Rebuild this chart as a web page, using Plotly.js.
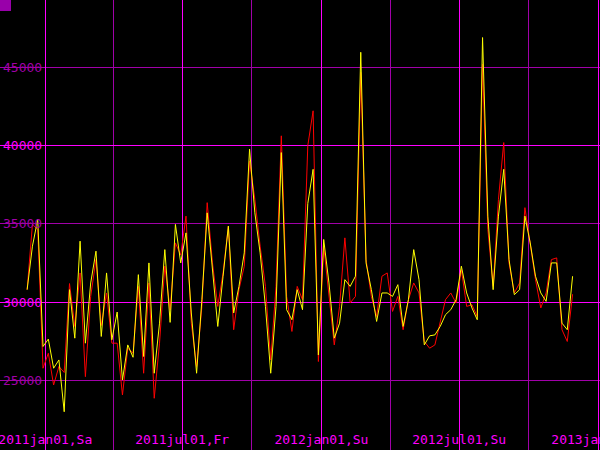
<!DOCTYPE html>
<html>
<head>
<meta charset="utf-8">
<script src="https://cdn.plot.ly/plotly-3.0.1.min.js"></script>
<style>html,body{margin:0;padding:0;background:#000;}#chart{width:600px;height:450px;}</style>
</head>
<body>
<div id="chart"></div>
<script>
// weekly series starting 2010-12-08
const startDate = "2010-12-08";
const seriesYellow = [30790,33570,35280,27160,27630,25770,26300,22990,30790,27690,
  33890,27370,31220,33250,27800,31860,27590,29360,25020,27260,
  26470,31750,26520,32500,25450,28650,33350,28700,34960,32500,
  34420,29300,25450,30150,35700,32290,28440,31650,34850,29300,
  31000,33140,39770,35700,33140,29720,25450,29720,39550,29510,
  28870,30790,29510,36300,38480,26620,34000,31220,27690,28650,
  31430,31000,31650,45960,32500,30790,28760,30580,30580,30360,
  31110,28440,30150,33350,31430,27260,27840,27900,28440,29190,
  29510,30150,32290,30580,29620,28870,46900,35490,30790,35490,
  38480,32710,30470,30790,35490,33780,31650,30580,30040,32500,
  32500,28650,28230,31650];
const seriesRed = [30790,34960,34640,25770,26730,24700,25880,25500,31180,28440,
  31860,25230,30360,32710,28500,30580,27370,27370,24060,27050,
  26730,31000,25450,31220,23850,27370,32290,29500,33780,33000,
  35490,28650,25880,29720,36350,32500,29720,31860,34850,28230,
  30790,32290,39020,36560,33570,31000,26300,31000,40620,30360,
  28120,31000,30150,40000,42220,26200,33570,30360,27260,29720,
  34100,29940,30360,44680,32710,30360,29080,31650,31860,29400,
  30360,28230,30150,31220,30580,27480,27050,27260,28650,30150,
  30580,29940,32070,29720,29830,29080,45200,34640,31000,36560,
  40190,32500,30580,31220,36030,33570,31430,29620,30580,32710,
  32820,28230,27480,30500];
// x ticks: quarters (all gridlines), half-years are the bright labelled ones
const xQuarterVals = ["2011-01-01","2011-04-01","2011-07-01","2011-10-01","2012-01-01","2012-04-01","2012-07-01","2012-10-01","2013-01-01"];
const xQuarterText = ["2011jan01,Sa","","2011jul01,Fr","","2012jan01,Su","","2012jul01,Su","","2013jan01,Tu"];
const xMajorVals = ["2011-01-01","2011-07-01","2012-01-01","2012-07-01","2013-01-01"];
// y ticks
const yAllVals = [25000,30000,35000,40000,45000];
const yAllText = ["25000","","35000","","45000"];
const yMajorVals = [30000,40000];
const yMajorText = ["30000","40000"];

const dates = [];
const d0 = new Date(startDate + "T00:00:00Z");
for (let i = 0; i < seriesYellow.length; i++) {
  const d = new Date(d0.getTime() + i * 7 * 86400000);
  dates.push(d.toISOString().slice(0,10));
}

const bright = "#ff00ff";
const dark = "#a000a8";
const fam = "DejaVu Sans Mono, Liberation Mono, monospace";
const yRange = [20545, 49300];
const xRange = ["2010-11-02 03:00", "2013-01-03 06:00"];

const traces = [
  {x: dates, y: seriesRed, type: "scatter", mode: "lines", line: {color: "#ff0000", width: 1}, xaxis: "x", yaxis: "y", hoverinfo: "skip"},
  {x: dates, y: seriesYellow, type: "scatter", mode: "lines", line: {color: "#ffff00", width: 1}, xaxis: "x2", yaxis: "y2", hoverinfo: "skip"}
];

const common = {ticks: "", showline: false, zeroline: false, ticklabelposition: "inside", ticklabeloverflow: "allow"};

const layout = {
  width: 600, height: 450,
  margin: {l: 0, r: 0, t: 0, b: 0, pad: 0},
  paper_bgcolor: "#000", plot_bgcolor: "#000",
  showlegend: false,
  font: {family: fam, size: 13},
  xaxis: Object.assign({}, common, {
    type: "date", range: xRange,
    tickmode: "array", tickvals: xQuarterVals, ticktext: xQuarterText,
    showgrid: true, gridcolor: dark, gridwidth: 1,
    tickfont: {family: fam, size: 13, color: bright}
  }),
  xaxis2: Object.assign({}, common, {
    type: "date", range: xRange, overlaying: "x", anchor: "y2",
    tickmode: "array", tickvals: xMajorVals,
    showticklabels: false,
    showgrid: true, gridcolor: bright, gridwidth: 1
  }),
  yaxis: Object.assign({}, common, {
    range: yRange,
    tickmode: "array", tickvals: yAllVals, ticktext: yAllText,
    showgrid: true, gridcolor: dark, gridwidth: 1,
    tickfont: {family: fam, size: 13, color: dark}
  }),
  yaxis2: Object.assign({}, common, {
    range: yRange, overlaying: "y", side: "left", anchor: "x2",
    tickmode: "array", tickvals: yMajorVals, ticktext: yMajorText,
    showgrid: true, gridcolor: bright, gridwidth: 1,
    tickfont: {family: fam, size: 13, color: bright}
  }),
  shapes: [
    {type: "rect", xref: "paper", yref: "paper", x0: 0, x1: 11/600, y0: 1 - 11/450, y1: 1,
     fillcolor: "#9900aa", line: {width: 0}, layer: "above"}
  ]
};

Plotly.newPlot("chart", traces, layout, {staticPlot: true, displayModeBar: false});
</script>
</body>
</html>
